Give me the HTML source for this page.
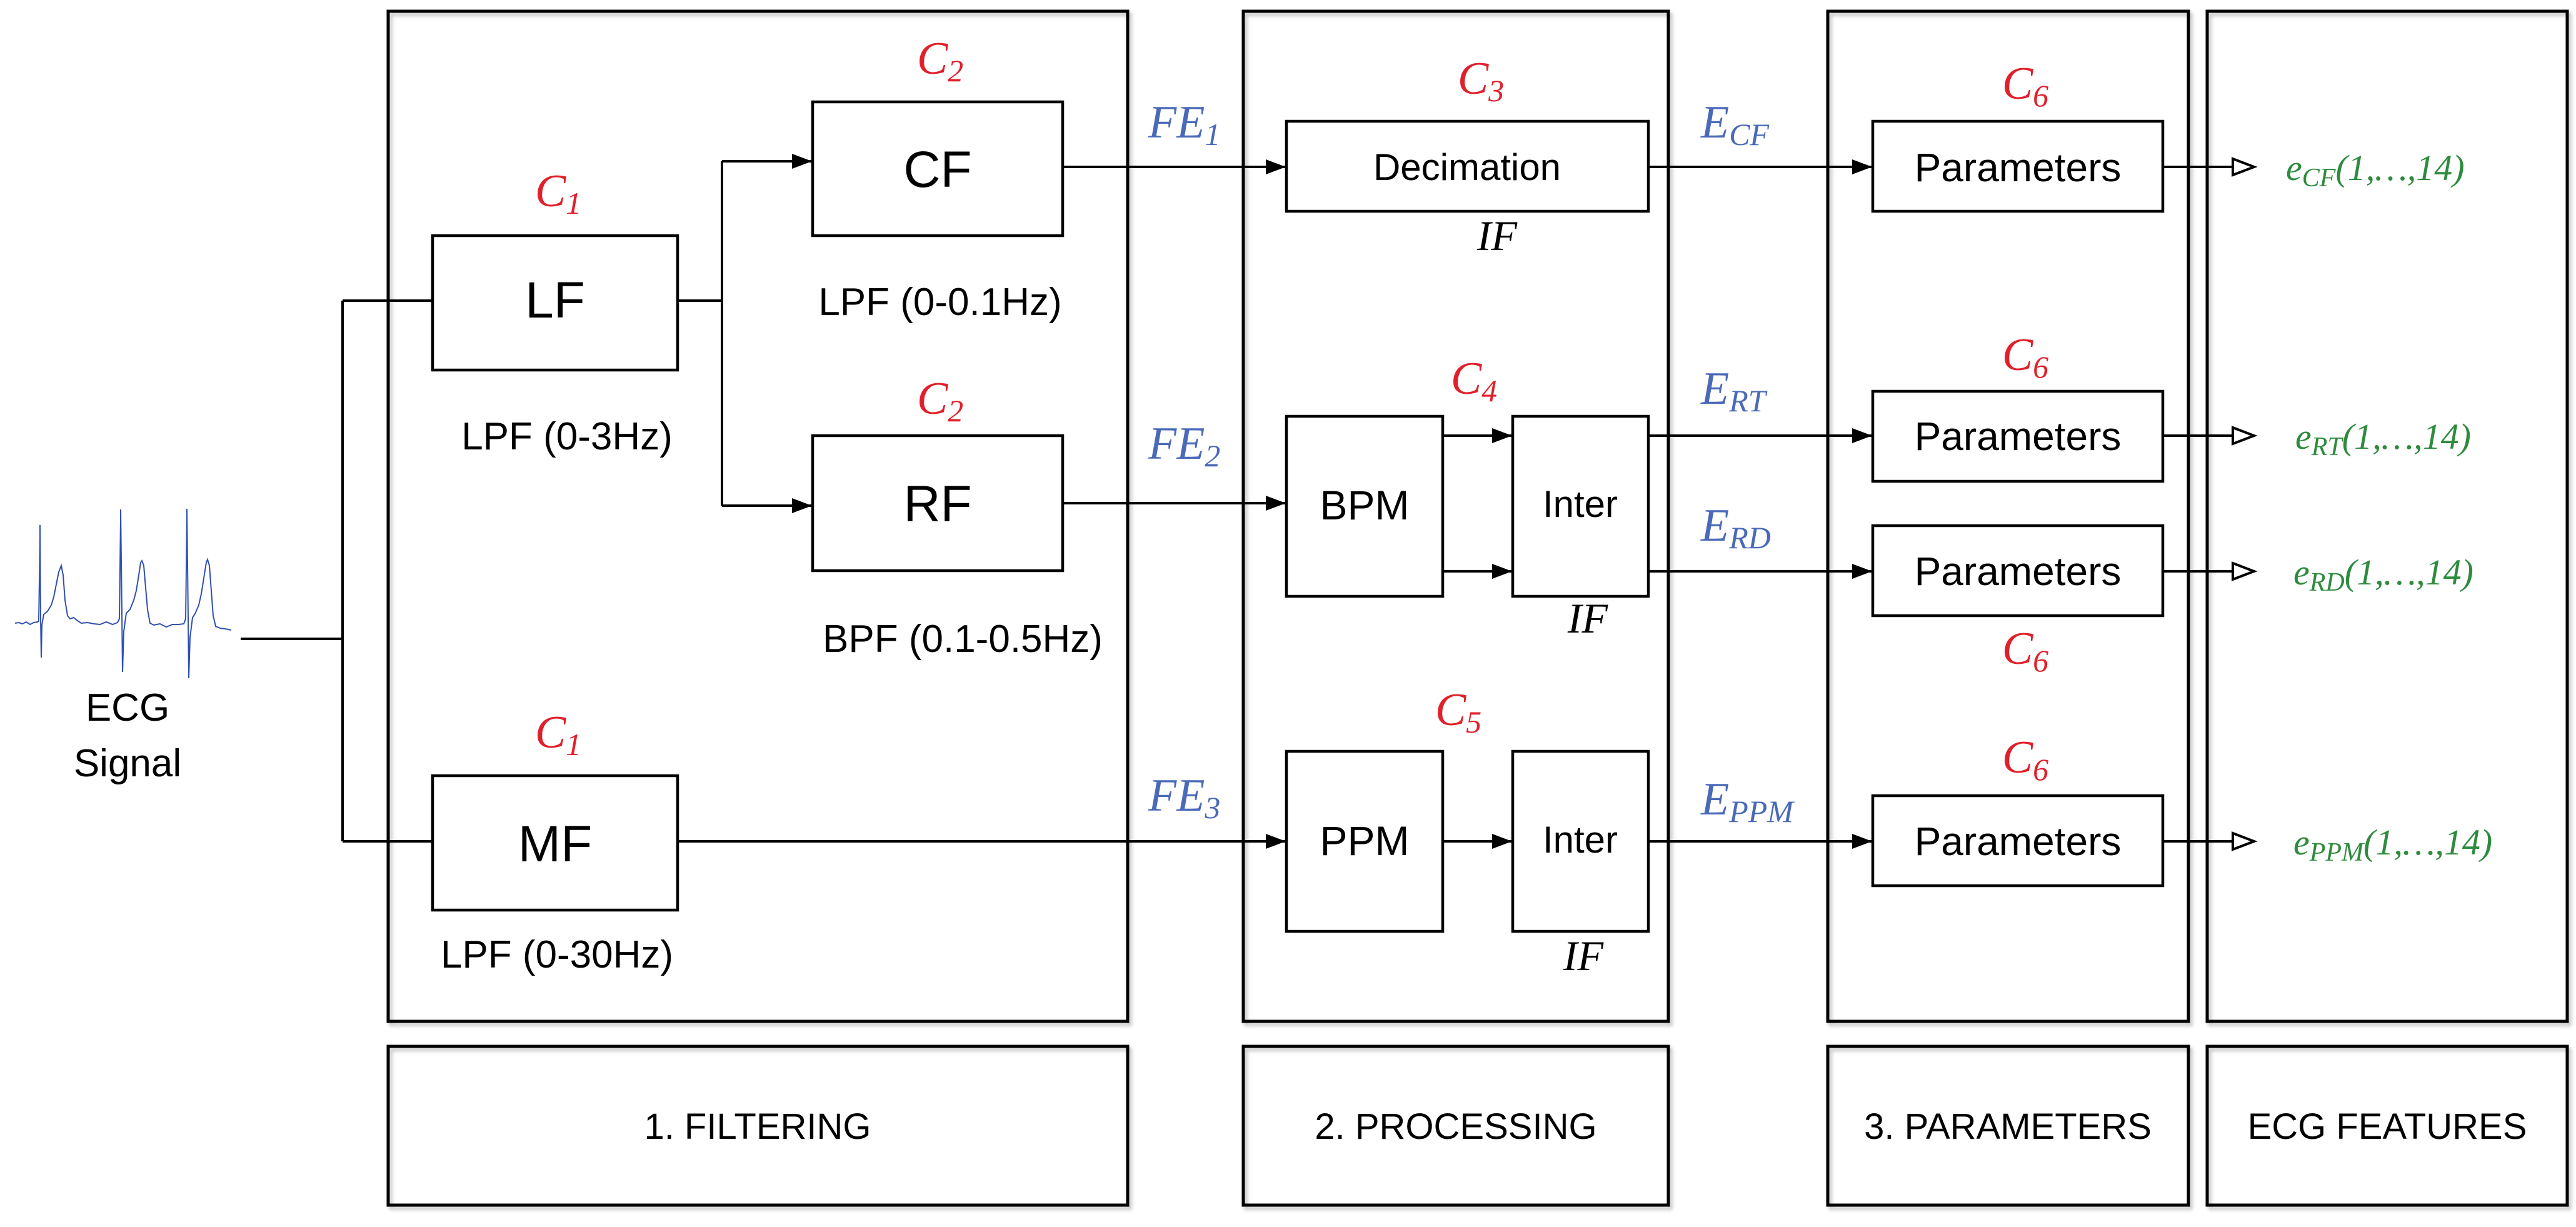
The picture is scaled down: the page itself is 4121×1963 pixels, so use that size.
<!DOCTYPE html>
<html><head><meta charset="utf-8"><style>
html,body{margin:0;padding:0;background:#fff;}
svg{display:block}
.s{font-family:"Liberation Sans",sans-serif;fill:#000;text-anchor:middle}
.r{font-family:"Liberation Serif",serif;font-style:italic;fill:#e0202a;text-anchor:middle}
.b{font-family:"Liberation Serif",serif;font-style:italic;fill:#4a6ab8}
.g{font-family:"Liberation Serif",serif;font-style:italic;fill:#2e8b3e}
.k{font-family:"Liberation Serif",serif;font-style:italic;fill:#000;text-anchor:middle}
</style></head><body>
<svg width="4121" height="1963" viewBox="0 0 4121 1963" xmlns="http://www.w3.org/2000/svg">
<defs>
<marker id="a" markerWidth="32" markerHeight="24" refX="31" refY="12" orient="auto" markerUnits="userSpaceOnUse" viewBox="0 0 32 24"><path d="M0,0 L32,12 L0,24 z" fill="#000"/></marker>
<filter id="sh"><feDropShadow dx="4" dy="5" stdDeviation="3" flood-color="#999" flood-opacity="0.6"/></filter>
</defs>
<style>.ar{marker-end:url(#a)}</style>
<g fill="none" stroke="#000" stroke-width="5" filter="url(#sh)">
<rect x="621" y="18" width="1183" height="1616"/>
<rect x="1989" y="18" width="680" height="1616"/>
<rect x="2924" y="18" width="577" height="1616"/>
<rect x="3531" y="18" width="576" height="1616"/>
<rect x="621" y="1674" width="1183" height="254"/>
<rect x="1989" y="1674" width="680" height="254"/>
<rect x="2924" y="1674" width="577" height="254"/>
<rect x="3531" y="1674" width="576" height="254"/>
</g>
<g fill="#fff" stroke="#000" stroke-width="4.5">
<rect x="692" y="377" width="392" height="215"/>
<rect x="692" y="1241" width="392" height="215"/>
<rect x="1300" y="163" width="400" height="214"/>
<rect x="1300" y="697" width="400" height="216"/>
<rect x="2058" y="194" width="579" height="144"/>
<rect x="2058" y="666" width="250" height="288"/>
<rect x="2420" y="666" width="217" height="288"/>
<rect x="2058" y="1202" width="250" height="288"/>
<rect x="2420" y="1202" width="217" height="288"/>
<rect x="2996" y="194" width="464" height="144"/>
<rect x="2996" y="626" width="464" height="144"/>
<rect x="2996" y="841" width="464" height="144"/>
<rect x="2996" y="1273" width="464" height="144"/>
</g>
<g fill="none" stroke="#000" stroke-width="4">
<path d="M385,1022 H548 M548,481 V1346 M548,481 H692 M548,1346 H692"/>
<path d="M1084,481 H1155 M1155,258 V809"/>
<path class="ar" d="M1155,258 H1298"/>
<path class="ar" d="M1155,809 H1298"/>
<path class="ar" d="M1700,267 H2056"/>
<path class="ar" d="M1700,805 H2056"/>
<path class="ar" d="M1084,1346 H2056"/>
<path class="ar" d="M2308,697 H2418"/>
<path class="ar" d="M2308,914 H2418"/>
<path class="ar" d="M2308,1346 H2418"/>
<path class="ar" d="M2637,267 H2994"/>
<path class="ar" d="M2637,697 H2994"/>
<path class="ar" d="M2637,914 H2994"/>
<path class="ar" d="M2637,1346 H2994"/>
<path d="M3460,267 H3572 M3460,697 H3572 M3460,914 H3572 M3460,1346 H3572"/>
</g>
<g fill="#fff" stroke="#000" stroke-width="4">
<path d="M3572,254 L3606,267 L3572,280 z"/>
<path d="M3572,684 L3606,697 L3572,710 z"/>
<path d="M3572,901 L3606,914 L3572,927 z"/>
<path d="M3572,1333 L3606,1346 L3572,1359 z"/>
</g>
<polyline fill="none" stroke="#3050b0" stroke-width="2" points="24,997 30,996 36,998 42,995 48,999 54,996 60,995 62,994 64,860 64,840 65,990 66,1052 67,1000 70,983 76,978 82,968 86,955 90,935 94,915 98,905 101,920 104,960 108,985 112,990 118,988 124,993 130,997 140,996 150,998 160,999 170,995 180,999 188,996 191,990 193,830 193,815 195,980 196,1075 198,1010 202,981 208,975 214,960 218,945 222,920 225,900 227,897 230,905 233,940 236,975 240,997 246,1000 256,998 266,1003 276,999 286,999 294,998 297,990 299,830 299,814 301,990 302,1085 304,1020 308,988 312,982 318,968 322,950 326,925 330,900 332,895 335,905 338,945 341,985 345,1002 352,1005 360,1006 370,1008"/>
<text class="s" x="204" y="1153" font-size="62">ECG</text>
<text class="s" x="204" y="1242" font-size="62">Signal</text>
<text class="s" x="888" y="508" font-size="82">LF</text>
<text class="s" x="888" y="1378" font-size="82">MF</text>
<text class="s" x="1500" y="299" font-size="82">CF</text>
<text class="s" x="1500" y="834" font-size="82">RF</text>
<text class="s" x="907" y="719" font-size="62">LPF (0-3Hz)</text>
<text class="s" x="1504" y="504" font-size="62">LPF (0-0.1Hz)</text>
<text class="s" x="1540" y="1043" font-size="62">BPF (0.1-0.5Hz)</text>
<text class="s" x="891" y="1548" font-size="62">LPF (0-30Hz)</text>
<text class="s" x="2347" y="288" font-size="60">Decimation</text>
<text class="s" x="2183" y="831" font-size="66">BPM</text>
<text class="s" x="2528" y="827" font-size="60">Inter</text>
<text class="s" x="2183" y="1368" font-size="66">PPM</text>
<text class="s" x="2528" y="1364" font-size="60">Inter</text>
<text class="s" x="3228" y="290" font-size="64">Parameters</text>
<text class="s" x="3228" y="720" font-size="64">Parameters</text>
<text class="s" x="3228" y="936" font-size="64">Parameters</text>
<text class="s" x="3228" y="1368" font-size="64">Parameters</text>
<text class="s" x="1212" y="1822" font-size="58">1. FILTERING</text>
<text class="s" x="2329" y="1822" font-size="58">2. PROCESSING</text>
<text class="s" x="3212" y="1822" font-size="58">3. PARAMETERS</text>
<text class="s" x="3819" y="1822" font-size="58">ECG FEATURES</text>
<text class="k" x="2395" y="400" font-size="68">IF</text>
<text class="k" x="2540" y="1012" font-size="68">IF</text>
<text class="k" x="2533" y="1552" font-size="68">IF</text>
<g font-size="74">
<text class="r" x="893" y="330">C<tspan font-size="50" dy="12">1</tspan></text>
<text class="r" x="893" y="1196">C<tspan font-size="50" dy="12">1</tspan></text>
<text class="r" x="1504" y="118">C<tspan font-size="50" dy="12">2</tspan></text>
<text class="r" x="1504" y="662">C<tspan font-size="50" dy="12">2</tspan></text>
<text class="r" x="2369" y="150">C<tspan font-size="50" dy="12">3</tspan></text>
<text class="r" x="2358" y="630">C<tspan font-size="50" dy="12">4</tspan></text>
<text class="r" x="2333" y="1160">C<tspan font-size="50" dy="12">5</tspan></text>
<text class="r" x="3240" y="158">C<tspan font-size="50" dy="12">6</tspan></text>
<text class="r" x="3240" y="592">C<tspan font-size="50" dy="12">6</tspan></text>
<text class="r" x="3240" y="1062">C<tspan font-size="50" dy="12">6</tspan></text>
<text class="r" x="3240" y="1236">C<tspan font-size="50" dy="12">6</tspan></text>
<text class="b" x="1837" y="220">FE<tspan font-size="50" dy="12">1</tspan></text>
<text class="b" x="1837" y="734">FE<tspan font-size="50" dy="12">2</tspan></text>
<text class="b" x="1837" y="1297">FE<tspan font-size="50" dy="12">3</tspan></text>
<text class="b" x="2721" y="220">E<tspan font-size="50" dy="12">CF</tspan></text>
<text class="b" x="2721" y="646">E<tspan font-size="50" dy="12">RT</tspan></text>
<text class="b" x="2721" y="865">E<tspan font-size="50" dy="12">RD</tspan></text>
<text class="b" x="2721" y="1303">E<tspan font-size="50" dy="12">PPM</tspan></text>
</g>
<g font-size="58">
<text class="g" x="3657" y="288">e<tspan font-size="42" dy="10">CF</tspan><tspan dy="-10">(1,…,14)</tspan></text>
<text class="g" x="3672" y="718">e<tspan font-size="42" dy="10">RT</tspan><tspan dy="-10">(1,…,14)</tspan></text>
<text class="g" x="3669" y="935">e<tspan font-size="42" dy="10">RD</tspan><tspan dy="-10">(1,…,14)</tspan></text>
<text class="g" x="3669" y="1367">e<tspan font-size="42" dy="10">PPM</tspan><tspan dy="-10">(1,…,14)</tspan></text>
</g>
</svg>
</body></html>
